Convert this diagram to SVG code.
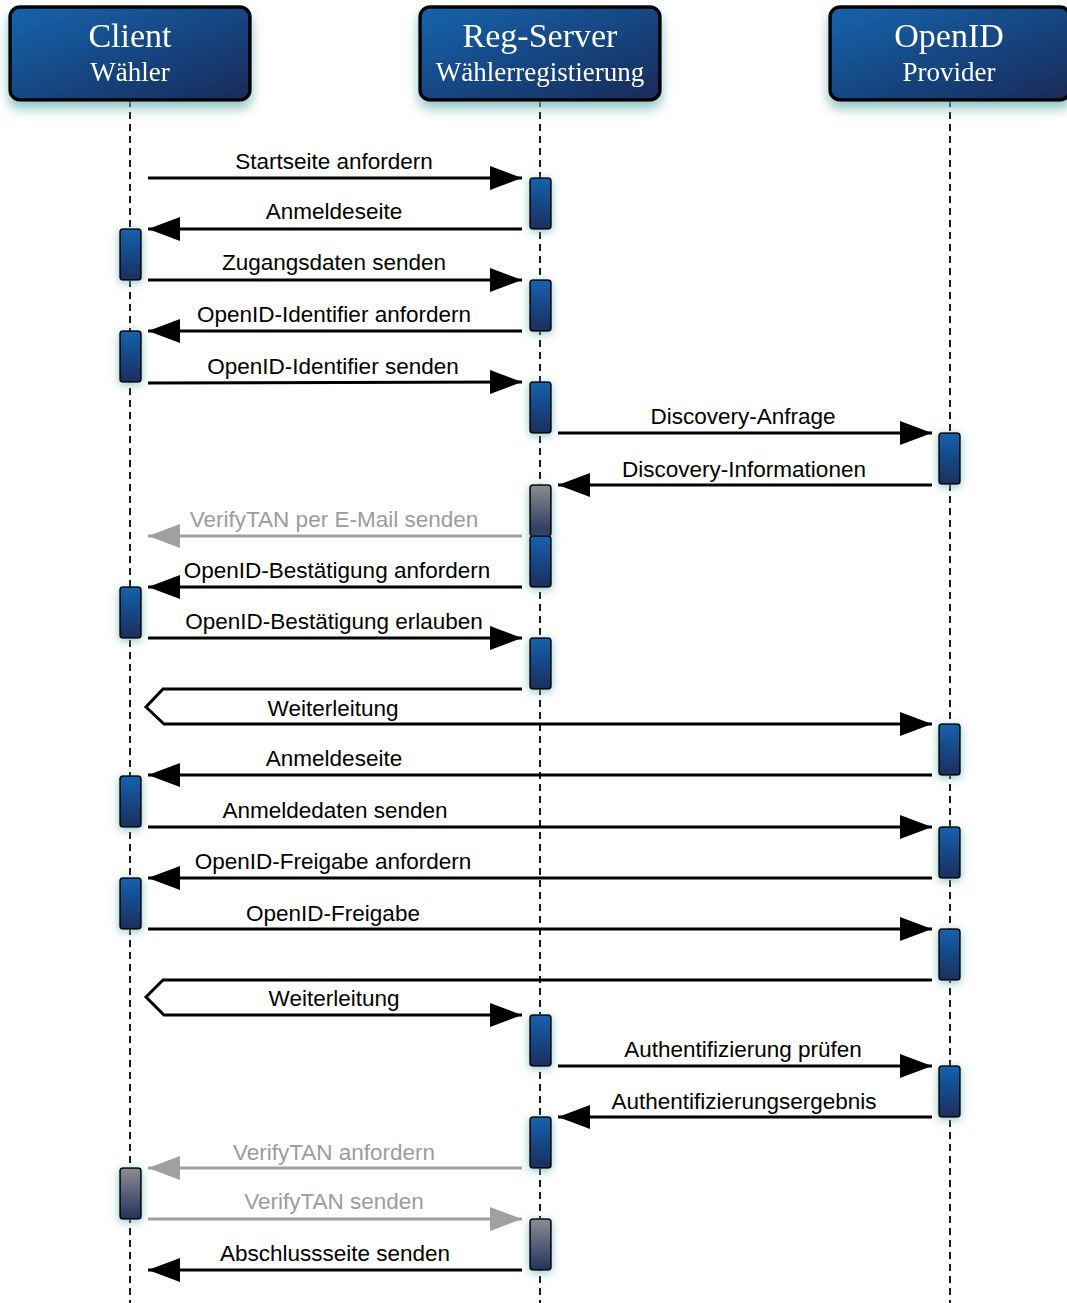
<svg xmlns="http://www.w3.org/2000/svg" width="1067" height="1303" viewBox="0 0 1067 1303">
  <defs>
    <linearGradient id="headFill" x1="0" y1="0" x2="1" y2="1">
      <stop offset="0" stop-color="#1664ad"/>
      <stop offset="1" stop-color="#1a2a58"/>
    </linearGradient>
    <linearGradient id="actBlue" x1="0" y1="0" x2="0" y2="1">
      <stop offset="0" stop-color="#1862ad"/>
      <stop offset="1" stop-color="#1a2e5e"/>
    </linearGradient>
    <linearGradient id="actGray" x1="0" y1="0" x2="0" y2="1">
      <stop offset="0" stop-color="#8c8c93"/>
      <stop offset="1" stop-color="#25315a"/>
    </linearGradient>
    <filter id="glow" x="-100%" y="-40%" width="300%" height="180%">
      <feGaussianBlur in="SourceAlpha" stdDeviation="5" result="b"/>
      <feOffset in="b" dy="2" result="o"/>
      <feFlood flood-color="#6fb0b0" flood-opacity="0.75"/>
      <feComposite in2="o" operator="in" result="g"/>
      <feMerge><feMergeNode in="g"/><feMergeNode in="SourceGraphic"/></feMerge>
    </filter>
    <filter id="headGlow" x="-20%" y="-20%" width="140%" height="160%">
      <feGaussianBlur in="SourceAlpha" stdDeviation="6" result="b"/>
      <feOffset in="b" dy="7" result="o"/>
      <feFlood flood-color="#6fb0b0" flood-opacity="0.75"/>
      <feComposite in2="o" operator="in" result="g"/>
      <feMerge><feMergeNode in="g"/><feMergeNode in="SourceGraphic"/></feMerge>
    </filter>
    <marker id="arr" markerUnits="userSpaceOnUse" markerWidth="34" markerHeight="26" refX="32" refY="12" orient="auto" viewBox="0 0 34 26">
      <path d="M0,0 L32,12 L0,24 z" fill="#000"/>
    </marker>
    <marker id="arrGray" markerUnits="userSpaceOnUse" markerWidth="34" markerHeight="26" refX="32" refY="12" orient="auto" viewBox="0 0 34 26">
      <path d="M0,0 L32,12 L0,24 z" fill="#a0a0a0"/>
    </marker>
  </defs>
  <style>
    .head rect { fill: url(#headFill); stroke: #000; stroke-width: 3.5; }
    .head text { fill: #fff; font-family: "Liberation Serif", "DejaVu Serif", serif; text-anchor: middle; }
    .t1 { font-size: 34px; }
    .t2 { font-size: 27px; }
    .life { stroke: #000; stroke-width: 1.8; stroke-dasharray: 7 5; fill: none; }
    .act { fill: url(#actBlue); stroke: #000; stroke-width: 1.6; filter: url(#glow); }
    .act.gray { fill: url(#actGray); }
    .msg { stroke: #000; stroke-width: 3; fill: none; marker-end: url(#arr); }
    .msg.gray { stroke: #a0a0a0; marker-end: url(#arrGray); }
    .lbl { font-family: "Liberation Sans", Arial, sans-serif; font-size: 22.5px; fill: #000; text-anchor: middle; }
    .lbl.gray { fill: #9c9c9c; }
  </style>

  <!-- lifelines -->
  <g id="lifelines">
    <line class="life" x1="130" y1="100" x2="130" y2="1303"/>
    <line class="life" x1="540" y1="100" x2="540" y2="1303"/>
    <line class="life" x1="950" y1="100" x2="950" y2="1303"/>
  </g>

  <!-- participants -->
  <g id="client" class="head" filter="url(#headGlow)">
    <rect x="10" y="7" width="240" height="93" rx="10"/>
    <text class="t1" x="130" y="47">Client</text>
    <text class="t2" x="130" y="81">Wähler</text>
  </g>
  <g id="regserver" class="head" filter="url(#headGlow)">
    <rect x="420" y="7" width="240" height="93" rx="10"/>
    <text class="t1" x="540" y="47">Reg-Server</text>
    <text class="t2" x="540" y="81">Wählerregistierung</text>
  </g>
  <g id="openid" class="head" filter="url(#headGlow)">
    <rect x="830" y="7" width="240" height="93" rx="10"/>
    <text class="t1" x="949" y="47">OpenID</text>
    <text class="t2" x="949" y="81">Provider</text>
  </g>

  <!-- activation bars -->
  <g id="activations">
    <rect class="act" x="530" y="178" width="21" height="51" rx="3"/>
    <rect class="act" x="120" y="229" width="21" height="51" rx="3"/>
    <rect class="act" x="530" y="280" width="21" height="51" rx="3"/>
    <rect class="act" x="120" y="331" width="21" height="51" rx="3"/>
    <rect class="act" x="530" y="382" width="21" height="51" rx="3"/>
    <rect class="act" x="939" y="433" width="21" height="51" rx="3"/>
    <rect class="act gray" x="530" y="485" width="21" height="51" rx="3"/>
    <rect class="act" x="530" y="536" width="21" height="51" rx="3"/>
    <rect class="act" x="120" y="587" width="21" height="51" rx="3"/>
    <rect class="act" x="530" y="638" width="21" height="51" rx="3"/>
    <rect class="act" x="939" y="724" width="21" height="51" rx="3"/>
    <rect class="act" x="120" y="776" width="21" height="51" rx="3"/>
    <rect class="act" x="939" y="827" width="21" height="51" rx="3"/>
    <rect class="act" x="120" y="878" width="21" height="51" rx="3"/>
    <rect class="act" x="939" y="929" width="21" height="51" rx="3"/>
    <rect class="act" x="530" y="1015" width="21" height="51" rx="3"/>
    <rect class="act" x="939" y="1066" width="21" height="51" rx="3"/>
    <rect class="act" x="530" y="1117" width="21" height="51" rx="3"/>
    <rect class="act gray" x="120" y="1168" width="21" height="51" rx="3"/>
    <rect class="act gray" x="530" y="1219" width="21" height="51" rx="3"/>
  </g>

  <!-- messages -->
  <g id="connectors">
    <line class="msg" x1="148" y1="178" x2="522" y2="178"/>
    <line class="msg" x1="522" y1="229" x2="148" y2="229"/>
    <line class="msg" x1="148" y1="280" x2="522" y2="280"/>
    <line class="msg" x1="522" y1="331" x2="148" y2="331"/>
    <line class="msg" x1="148" y1="383" x2="522" y2="382"/>
    <line class="msg" x1="558" y1="433" x2="932" y2="433"/>
    <line class="msg" x1="932" y1="485" x2="558" y2="485"/>
    <line class="msg gray" x1="522" y1="536" x2="148" y2="536"/>
    <line class="msg" x1="522" y1="587" x2="148" y2="587"/>
    <line class="msg" x1="148" y1="638" x2="522" y2="638"/>
    <path class="msg" d="M522,689 L163,689 L146,707 L164,724 L932,724" stroke-linejoin="miter"/>
    <line class="msg" x1="932" y1="775" x2="148" y2="775"/>
    <line class="msg" x1="148" y1="827" x2="932" y2="827"/>
    <line class="msg" x1="932" y1="878" x2="148" y2="878"/>
    <line class="msg" x1="148" y1="929" x2="932" y2="929"/>
    <path class="msg" d="M932,980 L163,980 L146,997 L164,1015 L522,1015" stroke-linejoin="miter"/>
    <line class="msg" x1="558" y1="1066" x2="932" y2="1066"/>
    <line class="msg" x1="932" y1="1117" x2="558" y2="1117"/>
    <line class="msg gray" x1="522" y1="1168" x2="148" y2="1168"/>
    <line class="msg gray" x1="148" y1="1219" x2="522" y2="1219"/>
    <line class="msg" x1="522" y1="1270" x2="148" y2="1270"/>
  </g>

  <!-- message labels -->
  <g id="labels">
    <text class="lbl" x="334" y="169">Startseite anfordern</text>
    <text class="lbl" x="334" y="219">Anmeldeseite</text>
    <text class="lbl" x="334" y="270">Zugangsdaten senden</text>
    <text class="lbl" x="334" y="322">OpenID-Identifier anfordern</text>
    <text class="lbl" x="333" y="374">OpenID-Identifier senden</text>
    <text class="lbl" x="743" y="424">Discovery-Anfrage</text>
    <text class="lbl" x="744" y="477">Discovery-Informationen</text>
    <text class="lbl gray" x="334" y="527">VerifyTAN per E-Mail senden</text>
    <text class="lbl" x="337" y="578">OpenID-Bestätigung anfordern</text>
    <text class="lbl" x="334" y="629">OpenID-Bestätigung erlauben</text>
    <text class="lbl" x="333" y="716">Weiterleitung</text>
    <text class="lbl" x="334" y="766">Anmeldeseite</text>
    <text class="lbl" x="335" y="818">Anmeldedaten senden</text>
    <text class="lbl" x="333" y="869">OpenID-Freigabe anfordern</text>
    <text class="lbl" x="333" y="921">OpenID-Freigabe</text>
    <text class="lbl" x="334" y="1006">Weiterleitung</text>
    <text class="lbl" x="743" y="1057">Authentifizierung prüfen</text>
    <text class="lbl" x="744" y="1109">Authentifizierungsergebnis</text>
    <text class="lbl gray" x="334" y="1160">VerifyTAN anfordern</text>
    <text class="lbl gray" x="334" y="1209">VerifyTAN senden</text>
    <text class="lbl" x="335" y="1261">Abschlussseite senden</text>
  </g>
</svg>
